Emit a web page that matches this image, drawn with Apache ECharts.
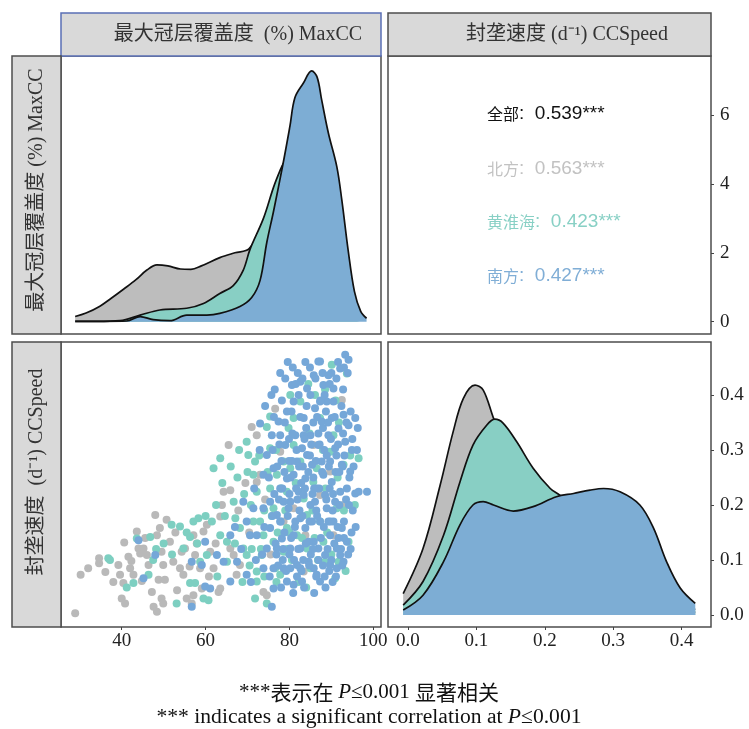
<!DOCTYPE html>
<html>
<head>
<meta charset="utf-8">
<script src="https://cdn.jsdelivr.net/npm/echarts@6.0.0/dist/echarts.min.js"></script>
<style>
  html, body { margin: 0; padding: 0; background: #fff; }
  #chart { width: 749px; height: 729px; }
</style>
</head>
<body>
<div id="chart"></div>
<script>
// density of MaxCC (%) per region: [MaxCC, density]
const maxccNorth = [[28.9,0.15],[31.5,0.25],[34.8,0.45],[37.5,0.68],[40.5,0.95],[43.4,1.22],[46.0,1.5],[48.4,1.65],[51,1.62],[54,1.53],[56.5,1.52],[59,1.62],[63.4,1.86],[67,2.0],[70.4,2.12],[74,2.9],[78,3.7],[82,4.1],[86,3.6],[90,2.3],[93,1.0],[96,0.25],[97.5,0.05]];
const maxccHuai = [[28.9,0.01],[34,0.01],[39.6,0.03],[44.4,0.19],[49.1,0.34],[55.5,0.39],[59.5,0.53],[63.4,0.82],[66.6,1.05],[69,1.5],[70.6,2.1],[73.8,3.0],[76.2,3.9],[77.8,4.4],[78.6,4.6],[81,5.0],[84,4.8],[87,3.9],[90,2.6],[93,1.3],[96,0.35],[98,0.05]];
const maxccSouth = [[28.9,0.01],[36,0.01],[41.2,0.02],[44.4,0.15],[47.5,0.06],[51.5,0.03],[55.5,0.19],[60.3,0.19],[63.4,0.24],[68.2,0.44],[71.0,0.7],[73.0,1.2],[74.6,2.3],[76.2,3.2],[78.5,4.6],[80.1,5.66],[81.3,6.5],[83.3,6.92],[85.3,7.28],[86.6,7.1],[87.7,6.43],[89.3,5.47],[91.3,4.5],[92.5,3.53],[94.0,2.08],[95.5,0.88],[97.0,0.3],[98.4,0.1]];

// density of CCSpeed (d-1) per region: [CCSpeed, density]
const speedNorth = [[-0.007,0.039],[0.022,0.121],[0.047,0.236],[0.066,0.333],[0.081,0.394],[0.098,0.418],[0.110,0.409],[0.125,0.358],[0.15,0.28],[0.2,0.16],[0.25,0.1],[0.3,0.06],[0.35,0.03],[0.4,0.01],[0.42,0.005]];
const speedHuai = [[-0.007,0.018],[0.022,0.061],[0.052,0.145],[0.076,0.242],[0.095,0.309],[0.115,0.345],[0.127,0.356],[0.139,0.349],[0.159,0.315],[0.183,0.267],[0.208,0.23],[0.222,0.218],[0.25,0.19],[0.3,0.14],[0.35,0.07],[0.4,0.02],[0.42,0.01]];
const speedSouth = [[-0.007,0.009],[0.022,0.036],[0.052,0.097],[0.076,0.164],[0.095,0.2],[0.110,0.206],[0.125,0.2],[0.154,0.189],[0.183,0.197],[0.217,0.215],[0.242,0.221],[0.266,0.227],[0.286,0.23],[0.310,0.224],[0.339,0.2],[0.359,0.158],[0.378,0.097],[0.398,0.049],[0.420,0.021]];

// scatter: [MaxCC, CCSpeed]
const ptsNorth = [[28.9,0.003],[30.2,0.073],[32.0,0.085],[34.6,0.094],[34.6,0.103],[39.2,0.091],[39.6,0.073],[40.4,0.058],[40.0,0.030],[40.8,0.021],[40.6,0.132],[41.6,0.106],[42.0,0.085],[42.8,0.073],[43.6,0.152],[44.0,0.121],[44.4,0.112],[45.2,0.121],[46.0,0.109],[46.4,0.091],[47.2,0.042],[47.6,0.015],[48.4,0.006],[48.0,0.182],[48.4,0.145],[49.1,0.158],[49.5,0.115],[49.9,0.091],[48.8,0.064],[50.3,0.064],[49.5,0.030],[49.9,0.021],[50.7,0.173],[51.5,0.133],[52.3,0.097],[53.9,0.085],[54.3,0.115],[55.1,0.121],[54.7,0.073],[55.5,0.030],[56.7,0.021],[57.1,0.036],[57.1,0.145],[57.9,0.130],[57.5,0.109],[58.7,0.085],[59.1,0.048],[59.5,0.152],[60.3,0.164],[61.1,0.115],[61.9,0.085],[63.1,0.042],[63.5,0.048],[63.5,0.179],[63.9,0.200],[64.3,0.224],[65.9,0.227],[65.5,0.309],[65.9,0.121],[66.7,0.109],[67.4,0.073],[68.2,0.091],[71.0,0.342],[72.2,0.327],[72.2,0.242],[73.0,0.255],[73.8,0.042],[74.6,0.036],[76.6,0.375],[77.8,0.297],[78.6,0.170],[81.0,0.194],[83.4,0.079],[87.3,0.218],[89.7,0.261],[92.5,0.391],[92.9,0.200],[85.7,0.309],[90.5,0.145],[83.8,0.145],[79.4,0.115],[42.3,0.098],[45.6,0.140],[52.8,0.150],[56.2,0.088],[60.8,0.070],[62.4,0.130],[67.8,0.190],[69.5,0.240],[70.4,0.150],[74.2,0.210],[75.5,0.110],[36.1,0.078],[38.0,0.060],[44.8,0.062],[53.2,0.045]];
const ptsHuai = [[36.8,0.103],[37.2,0.100],[42.8,0.058],[43.6,0.139],[46.8,0.142],[46.4,0.073],[51.9,0.164],[53.9,0.161],[53.1,0.021],[56.3,0.142],[57.1,0.170],[58.3,0.176],[56.3,0.058],[57.5,0.058],[59.5,0.030],[60.7,0.027],[58.7,0.097],[60.3,0.109],[61.5,0.170],[63.5,0.285],[61.9,0.267],[63.5,0.145],[65.1,0.133],[66.7,0.206],[67.1,0.176],[68.2,0.158],[69.0,0.121],[69.8,0.315],[70.2,0.291],[71.4,0.255],[71.8,0.279],[72.2,0.224],[71.4,0.170],[73.0,0.170],[73.8,0.145],[73.4,0.109],[72.2,0.079],[72.2,0.061],[71.8,0.030],[74.6,0.021],[74.6,0.342],[75.4,0.361],[75.4,0.303],[75.4,0.230],[76.2,0.194],[76.2,0.133],[76.6,0.085],[77.8,0.073],[78.6,0.115],[79.4,0.158],[79.4,0.224],[80.2,0.267],[81.0,0.309],[81.0,0.358],[82.6,0.279],[83.4,0.212],[84.2,0.182],[84.2,0.121],[85.0,0.085],[85.7,0.242],[86.5,0.267],[87.3,0.170],[88.1,0.133],[88.5,0.097],[89.7,0.297],[90.5,0.327],[91.3,0.194],[91.7,0.097],[90.9,0.067],[92.9,0.273],[94.1,0.133],[96.5,0.285],[93.7,0.439],[90.1,0.455],[86.1,0.400],[82.6,0.388],[87.3,0.358],[78.6,0.279],[77.0,0.255],[81.8,0.145],[69.8,0.109],[65.1,0.097],[54.7,0.121],[67.6,0.250],[70.8,0.200],[74.0,0.190],[77.2,0.150],[80.6,0.100],[82.2,0.060],[84.8,0.330],[88.6,0.230],[91.8,0.350],[95.6,0.200],[93.4,0.080],[79.8,0.340],[76.9,0.060],[73.2,0.120],[68.8,0.060],[62.8,0.070],[64.6,0.180],[48.2,0.120],[41.2,0.050],
  [62.5,0.200],[64.0,0.240],[66.0,0.270],[68.0,0.300],[69.2,0.220],[70.0,0.260],[71.0,0.120],[72.8,0.290],[74.8,0.260],[75.8,0.180],[76.8,0.300],[78.0,0.230],[79.0,0.190],[80.0,0.150],[81.5,0.240],[83.0,0.140],[85.5,0.190],[86.8,0.100],[88.0,0.300],[89.0,0.150],[90.0,0.110],[91.5,0.250],[93.0,0.190],[94.5,0.290],[60.0,0.180],[58.0,0.130],[55.5,0.150],[52.0,0.110],[50.0,0.130],[47.5,0.100],[67.0,0.130],[70.5,0.090],[74.0,0.070],[79.5,0.120],[84.0,0.050],[86.0,0.140],[91.0,0.390],[88.5,0.410],[84.5,0.420],[80.2,0.400]];
const ptsSouth = [[44.0,0.136],[45.2,0.067],[48.0,0.109],[56.7,0.015],[56.7,0.097],[59.1,0.091],[59.9,0.133],[59.9,0.052],[61.1,0.048],[62.7,0.109],[64.3,0.097],[65.9,0.061],[65.9,0.145],[67.5,0.097],[69.8,0.073],[69.0,0.206],[70.6,0.145],[73.0,0.348],[73.8,0.194],[73.8,0.085],[75.8,0.015],[76.2,0.048],
  [74.6,0.121],[75.4,0.158],[75.8,0.327],[76.2,0.267],[77.0,0.182],[77.4,0.352],[77.8,0.230],[78.2,0.139],[78.6,0.085],[79.0,0.309],[79.4,0.370],[79.8,0.194],[80.2,0.121],[80.6,0.418],[81.0,0.255],[81.4,0.327],[81.4,0.170],[81.8,0.091],[82.2,0.400],[82.2,0.224],[82.6,0.121],[83.0,0.303],[83.0,0.061],[83.4,0.358],[83.8,0.248],[83.8,0.158],[84.2,0.412],[84.6,0.097],[85.0,0.327],[85.0,0.200],[85.4,0.273],[85.8,0.436],[85.8,0.133],[86.1,0.376],[86.5,0.230],[86.5,0.073],[86.9,0.461],[86.9,0.309],[87.3,0.170],[87.7,0.352],[88.1,0.418],[88.1,0.255],[88.5,0.109],[88.9,0.388],[88.9,0.194],[89.3,0.327],[89.7,0.145],[90.1,0.358],[90.1,0.242],[90.5,0.412],[90.5,0.170],[90.9,0.303],[91.3,0.121],[91.7,0.339],[92.1,0.448],[92.1,0.224],[92.5,0.273],[92.5,0.158],[92.9,0.364],[93.3,0.473],[93.3,0.315],[93.7,0.230],[93.7,0.133],[94.1,0.345],[94.1,0.464],[94.5,0.261],[94.9,0.300],[95.7,0.358],[95.7,0.221],[96.5,0.224],[98.5,0.224],[92.1,0.109],[87.3,0.461],
  [79.4,0.248],[80.2,0.206],[81.0,0.145],[81.8,0.279],[82.6,0.176],[83.4,0.218],[84.2,0.291],[84.6,0.133],[85.4,0.170],[86.1,0.206],[86.9,0.121],[87.7,0.279],[88.5,0.218],[89.3,0.170],[89.7,0.279],[90.9,0.206],[77.8,0.170],[78.6,0.206],[77.0,0.121],[76.2,0.085],[79.4,0.061],[81.0,0.055],[80.2,0.085],[82.6,0.085],[85.8,0.085],[87.3,0.061],[89.7,0.091],[91.3,0.085],[92.9,0.097],[83.4,0.327],[82.6,0.424],[81.0,0.388],[87.3,0.388],[89.3,0.436],[90.5,0.388],[77.8,0.327],[74.6,0.291],[73.8,0.255],[75.4,0.206],[71.4,0.194],[72.2,0.145],[69.8,0.170],
  [76.5,0.41],[78.2,0.39],[79.0,0.43],[80.8,0.45],[82.0,0.44],[83.8,0.46],[84.9,0.45],[86.2,0.43],[87.9,0.44],[89.6,0.42],[91.2,0.43],[92.8,0.41],[93.9,0.44],[78.9,0.35],[80.5,0.37],[82.6,0.36],[84.1,0.38],[85.7,0.35],[87.4,0.39],[88.7,0.37],[90.8,0.36],[92.4,0.38],[94.6,0.37],[77.6,0.31],[79.9,0.32],[81.7,0.30],[83.6,0.32],[85.2,0.31],[86.9,0.33],[88.3,0.30],[89.9,0.32],[91.6,0.31],[93.1,0.29],[95.0,0.32],[96.1,0.30],[77.1,0.27],[78.8,0.26],[80.6,0.28],[82.3,0.27],[84.5,0.26],[86.3,0.28],[87.8,0.26],[89.4,0.27],[91.0,0.26],[92.7,0.27],[94.3,0.25],[76.4,0.22],[78.3,0.23],[80.0,0.22],[81.9,0.21],[83.7,0.23],[85.5,0.22],[87.1,0.23],[88.8,0.21],[90.4,0.22],[91.9,0.20],[93.5,0.21],[95.1,0.19],[75.9,0.18],[77.9,0.17],[79.6,0.18],[81.3,0.16],[83.1,0.18],[84.8,0.17],[86.6,0.18],[88.2,0.16],[89.8,0.17],[91.5,0.16],[93.0,0.17],[94.8,0.15],[76.7,0.13],[78.5,0.12],[80.4,0.14],[82.1,0.12],[83.9,0.13],[85.6,0.12],[87.5,0.14],[89.1,0.12],[90.7,0.13],[92.3,0.12],[94.0,0.11],[77.3,0.09],[79.2,0.08],[81.1,0.10],[82.9,0.08],[84.7,0.09],[86.4,0.07],[88.0,0.09],[89.5,0.08],[91.1,0.07],[92.6,0.09],[78.0,0.05],[80.9,0.04],[83.5,0.05],[85.9,0.04],[88.6,0.05],[90.3,0.06],
  [74.2,0.380],[75.1,0.250],[76.0,0.300],[77.5,0.210],[78.8,0.150],[79.9,0.280],[80.7,0.330],[81.6,0.230],[82.4,0.190],[83.2,0.270],[84.0,0.340],[84.9,0.290],[85.7,0.250],[86.4,0.190],[87.2,0.310],[88.0,0.340],[88.9,0.290],[89.6,0.230],[90.3,0.190],[91.2,0.290],[91.9,0.260],[92.8,0.330],[93.6,0.350],[94.2,0.200],[95.3,0.270],[96.3,0.340],[95.8,0.160],[94.6,0.120],[93.0,0.140],[91.7,0.140],[90.0,0.100],[88.4,0.070],[86.9,0.100],[85.1,0.110],[83.3,0.100],[81.8,0.070],[80.0,0.110],[78.4,0.100],[76.9,0.110],[75.3,0.070],[73.5,0.110],[72.0,0.100],[70.8,0.060],[68.5,0.120],[67.0,0.160],[71.6,0.230],[72.9,0.300],[74.0,0.160],[75.7,0.400],[77.8,0.440],[79.6,0.460],[81.5,0.420],[83.1,0.430],[85.0,0.400],[86.6,0.360],[88.4,0.400],[90.0,0.440],[91.6,0.460],[93.0,0.450],[89.2,0.350],[85.9,0.230],[82.8,0.240],[80.3,0.250],[78.1,0.280],[76.3,0.360]];

const corLabels = ['全部', '北方', '黄淮海', '南方'];
const corValues = ['0.539***', '0.563***', '0.423***', '0.427***'];
const maxccTicks = [40, 60, 80, 100];
const speedTicks = [0, 0.1, 0.2, 0.3, 0.4];
const densTicks = [0, 2, 4, 6];

const SERIF = "'Liberation Serif', 'Noto Sans CJK SC', serif";
const CJK = "'Noto Sans CJK SC', sans-serif";
const SANS = "'Liberation Sans', 'Noto Sans CJK SC', sans-serif";
const FILL = { north: '#bdbdbd', huai: '#88cfc4', south: '#7dadd4' };
const DOT = { north: '#b9b9b9', huai: '#7dcfc1', south: '#75a7d8' };
const CORCOL = ['#111111', '#c2c2c2', '#88d0c5', '#80aed6'];

const chart = echarts.init(document.getElementById('chart'), null, { renderer: 'canvas' });

const tickLabel = { fontFamily: SERIF, fontSize: 19, color: '#222' };
const tick = { show: true, length: 3, lineStyle: { color: '#444', width: 1 } };
const noLine = { show: false, onZero: false };

// z keeps each curve's outline under the next region's fill
function dens(data, color, idx, z) {
  return {
    type: 'line', xAxisIndex: idx, yAxisIndex: idx, data, z,
    smooth: 0.35, symbol: 'none', showSymbol: false, silent: true,
    lineStyle: { color: '#111', width: 1.7 },
    areaStyle: { color, opacity: 1 }
  };
}
function dots(data, color) {
  return {
    type: 'scatter', xAxisIndex: 2, yAxisIndex: 2, data,
    symbolSize: 8, itemStyle: { color, opacity: 1 }, silent: true
  };
}

const gridBox = { show: true, borderColor: '#4d4d4d', borderWidth: 1.5, backgroundColor: '#fff' };
const hidden = { show: false };

const graphic = [];
function strip(x, y, w, h, stroke) {
  graphic.push({ type: 'rect', z: 100, shape: { x, y, width: w, height: h },
    style: { fill: '#d9d9d9', stroke, lineWidth: 1.5 } });
}
strip(61, 13, 320, 43, '#5a6fb5');
strip(388, 13, 323, 43, '#4d4d4d');
strip(12, 56, 49, 278, '#4d4d4d');
strip(12, 342, 49, 285, '#4d4d4d');

function stripText(x, y, text, rot) {
  graphic.push({ type: 'text', z: 101, x, y, rotation: rot || 0,
    style: { text, font: "20px " + SERIF, fill: '#333', align: 'center', verticalAlign: 'middle' } });
}
stripText(238, 35, '最大冠层覆盖度  (%) MaxCC');
stripText(567, 35, '封垄速度 (d⁻¹) CCSpeed');
stripText(37, 190, '最大冠层覆盖度 (%) MaxCC', Math.PI / 2);
stripText(37, 472, '封垄速度  (d⁻¹) CCSpeed', Math.PI / 2);

const corY = [114, 169, 222, 276];
corLabels.forEach((lab, i) => {
  graphic.push({ type: 'text', z: 101, x: 487, y: corY[i],
    style: { text: '{c|' + lab + '}{n|:  ' + corValues[i] + '}', align: 'left', verticalAlign: 'middle',
      rich: {
        c: { fontFamily: CJK, fontSize: 16, fill: CORCOL[i] },
        n: { fontFamily: SANS, fontSize: 19, fill: CORCOL[i] }
      } } });
});

graphic.push({ type: 'text', x: 369, y: 692,
  style: { text: '{s|***}{c|表示在 }{i|P}{t|≤0.001 }{c|显著相关}', align: 'center', verticalAlign: 'middle',
    rich: {
      s: { fontFamily: SERIF, fontSize: 21, fill: '#111' },
      c: { fontFamily: CJK, fontSize: 21, fill: '#111' },
      i: { fontFamily: SERIF, fontSize: 21, fontStyle: 'italic', fill: '#111' },
      t: { fontFamily: SERIF, fontSize: 21, fill: '#111' }
    } } });
graphic.push({ type: 'text', x: 369, y: 717,
  style: { text: '{t|*** indicates a significant correlation at }{i|P}{t|≤0.001}', align: 'center', verticalAlign: 'middle',
    rich: {
      i: { fontFamily: SERIF, fontSize: 21.6, fontStyle: 'italic', fill: '#111' },
      t: { fontFamily: SERIF, fontSize: 21.6, fill: '#111' }
    } } });

chart.setOption({
  animation: false,
  backgroundColor: '#fff',
  grid: [
    Object.assign({ left: 61, top: 56, width: 320, height: 278 }, gridBox),
    Object.assign({ left: 388, top: 56, width: 323, height: 278 }, gridBox),
    Object.assign({ left: 61, top: 342, width: 320, height: 285 }, gridBox),
    Object.assign({ left: 388, top: 342, width: 323, height: 285 }, gridBox)
  ],
  xAxis: [
    { gridIndex: 0, type: 'value', min: 25.52, max: 101.84, axisLine: noLine, axisTick: hidden, axisLabel: hidden, splitLine: hidden },
    { gridIndex: 1, type: 'value', min: 0, max: 1, axisLine: noLine, axisTick: hidden, axisLabel: hidden, splitLine: hidden },
    { gridIndex: 2, type: 'value', position: 'bottom', min: 25.52, max: 101.84, axisLine: noLine, splitLine: hidden,
      axisTick: Object.assign({ customValues: maxccTicks }, tick),
      axisLabel: Object.assign({ customValues: maxccTicks, margin: 5 }, tickLabel) },
    { gridIndex: 3, type: 'value', position: 'bottom', min: -0.0292, max: 0.443, axisLine: noLine, splitLine: hidden,
      axisTick: Object.assign({ customValues: speedTicks }, tick),
      axisLabel: Object.assign({ customValues: speedTicks, margin: 5, formatter: v => v.toFixed(1) }, tickLabel) }
  ],
  yAxis: [
    { gridIndex: 0, type: 'value', min: -0.357, max: 7.713, axisLine: noLine, axisTick: hidden, axisLabel: hidden, splitLine: hidden },
    { gridIndex: 1, type: 'value', position: 'right', min: -0.357, max: 7.713, axisLine: noLine, splitLine: hidden,
      axisTick: Object.assign({ customValues: densTicks }, tick),
      axisLabel: Object.assign({ customValues: densTicks, margin: 9 }, tickLabel) },
    { gridIndex: 2, type: 'value', min: -0.0218, max: 0.4964, axisLine: noLine, axisTick: hidden, axisLabel: hidden, splitLine: hidden },
    { gridIndex: 3, type: 'value', position: 'right', min: -0.0218, max: 0.4964, axisLine: noLine, splitLine: hidden,
      axisTick: Object.assign({ customValues: speedTicks }, tick),
      axisLabel: Object.assign({ customValues: speedTicks, margin: 9, formatter: v => v.toFixed(1) }, tickLabel) }
  ],
  graphic,
  series: [
    dens(maxccNorth, FILL.north, 0, 2),
    dens(maxccHuai, FILL.huai, 0, 3),
    dens(maxccSouth, FILL.south, 0, 4),
    dots(ptsNorth, DOT.north),
    dots(ptsHuai, DOT.huai),
    dots(ptsSouth, DOT.south),
    dens(speedNorth, FILL.north, 3, 2),
    dens(speedHuai, FILL.huai, 3, 3),
    dens(speedSouth, FILL.south, 3, 4)
  ]
});
</script>
</body>
</html>
